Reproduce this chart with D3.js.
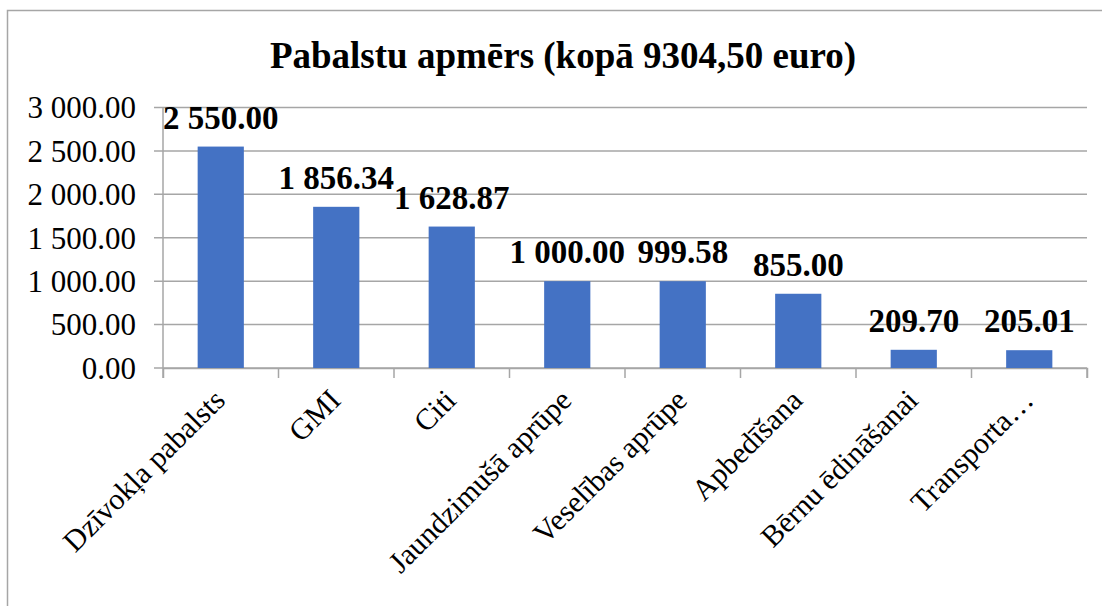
<!DOCTYPE html>
<html>
<head>
<meta charset="utf-8">
<script src="https://cdn.jsdelivr.net/npm/d3@7"></script>
<style>
  body { margin: 0; background: #fff; }
  svg { display: block; }
  svg text { font-family: "Liberation Serif"; }
</style>
</head>
<body>
<div class="chart"></div>
<script>
var title = "Pabalstu apmērs (kopā 9304,50 euro)";
var categories = ["Dzīvokļa pabalsts", "GMI", "Citi", "Jaundzimušā aprūpe",
  "Veselības aprūpe", "Apbedīšana", "Bērnu ēdināšanai", "Transporta…"];
var values = [2550.00, 1856.34, 1628.87, 1000.00, 999.58, 855.00, 209.70, 205.01];
var yTicks = [0, 500, 1000, 1500, 2000, 2500, 3000];

var width = 1102, height = 606;
var plot = {left: 163, right: 1087, top: 107.5, bottom: 368};

var fmt = function(v) {
  return d3.format(",.2f")(v).replace(/,/g, " ");
};

var x = d3.scaleBand()
  .domain(categories)
  .range([plot.left, plot.right])
  .paddingInner(0.6)
  .paddingOuter(0.3);

var y = d3.scaleLinear()
  .domain([0, 3000])
  .range([plot.bottom, plot.top]);

var svg = d3.select(".chart").append("svg")
  .attr("width", width)
  .attr("height", height);

// chart border (runs off the right and bottom of the picture)
svg.append("rect")
  .attr("x", 7.5).attr("y", 10.5)
  .attr("width", 1120).attr("height", 620)
  .attr("fill", "none")
  .attr("stroke", "#a6a6a6")
  .attr("stroke-width", 1.5);

svg.append("text")
  .attr("x", 563)
  .attr("y", 68)
  .attr("text-anchor", "middle")
  .style("font-size", "37px")
  .style("font-weight", "bold")
  .text(title);

// gridlines
svg.append("g")
  .selectAll("line")
  .data(yTicks)
  .enter().append("line")
    .attr("x1", plot.left - 9)
    .attr("x2", plot.right)
    .attr("y1", function(d) { return y(d); })
    .attr("y2", function(d) { return y(d); })
    .attr("stroke", "#a6a6a6")
    .attr("stroke-width", 1.5);

// y axis line
svg.append("line")
  .attr("x1", plot.left).attr("x2", plot.left)
  .attr("y1", plot.top).attr("y2", plot.bottom)
  .attr("stroke", "#a6a6a6")
  .attr("stroke-width", 1.5);

svg.append("g")
  .selectAll("text")
  .data(yTicks)
  .enter().append("text")
    .attr("x", 136)
    .attr("y", function(d) { return y(d); })
    .attr("dy", "0.35em")
    .attr("text-anchor", "end")
    .style("font-size", "31px")
    .text(fmt);

// x axis
var xAxis = d3.axisBottom(x).tickSize(10).tickFormat("");
var gX = svg.append("g")
  .attr("transform", "translate(0," + plot.bottom + ")")
  .call(xAxis);
gX.select(".domain").attr("stroke", "#a6a6a6").attr("stroke-width", 1.5);
gX.selectAll(".tick").remove();

var edges = d3.range(categories.length + 1).map(function(i) {
  return plot.left + i * (plot.right - plot.left) / categories.length;
});
gX.selectAll(".edge")
  .data(edges)
  .enter().append("line")
    .attr("class", "edge")
    .attr("x1", function(d) { return d; })
    .attr("x2", function(d) { return d; })
    .attr("y1", 0).attr("y2", 10)
    .attr("stroke", "#a6a6a6")
    .attr("stroke-width", 1.5);

svg.append("g")
  .selectAll("rect")
  .data(values)
  .enter().append("rect")
    .attr("x", function(d, i) { return x(categories[i]); })
    .attr("y", function(d) { return y(d); })
    .attr("width", x.bandwidth())
    .attr("height", function(d) { return y(0) - y(d); })
    .attr("fill", "#4472c4");

svg.append("g")
  .selectAll("text")
  .data(values)
  .enter().append("text")
    .attr("x", function(d, i) { return x(categories[i]) + x.bandwidth() / 2; })
    .attr("y", function(d) { return y(d) - 18; })
    .attr("text-anchor", "middle")
    .style("font-size", "33px")
    .style("font-weight", "bold")
    .text(fmt);

svg.append("g")
  .selectAll("text")
  .data(categories)
  .enter().append("text")
    .attr("transform", function(d) {
      return "translate(" + (x(d) + x.bandwidth() / 2 + 6) + "," + 402 + ") rotate(-45)";
    })
    .attr("text-anchor", "end")
    .style("font-size", "30px")
    .text(function(d) { return d; });
</script>
</body>
</html>
